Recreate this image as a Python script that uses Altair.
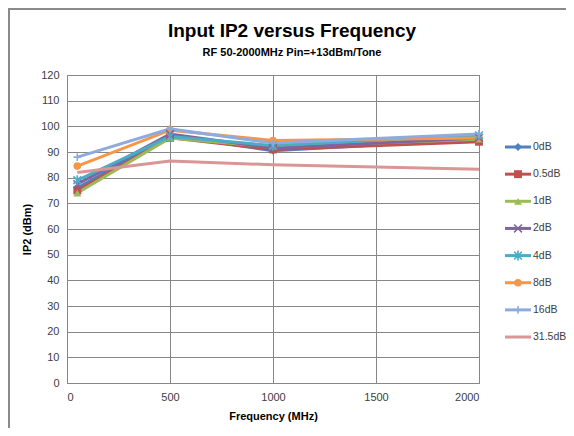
import altair as alt
import pandas as pd

series_names = ["0dB", "0.5dB", "1dB", "2dB", "4dB", "8dB", "16dB", "31.5dB"]
freq_mhz = [50, 500, 1000, 2000]
ip2_0dB = [76.0, 96.5, 90.5, 95.0]
ip2_0p5dB = [75.0, 95.5, 91.0, 94.0]
ip2_1dB = [74.0, 95.5, 92.0, 95.0]
ip2_2dB = [77.5, 97.0, 91.5, 95.5]
ip2_4dB = [79.0, 96.0, 92.5, 96.5]
ip2_8dB = [84.5, 98.5, 94.5, 95.5]
ip2_16dB = [88.0, 99.0, 93.5, 97.0]
ip2_31p5dB = [82.0, 86.5, 85.0, 83.3]
all_values = [ip2_0dB, ip2_0p5dB, ip2_1dB, ip2_2dB, ip2_4dB, ip2_8dB, ip2_16dB, ip2_31p5dB]

x_ticks = [0, 500, 1000, 1500, 2000]
y_ticks = list(range(0, 121, 10))

series_colors = ["#4F81BD", "#C0504D", "#9BBB59", "#8064A2", "#4BACC6", "#F79646", "#8FAADC", "#D99694"]
X_PATH = "M-1,-1L1,1M-1,1L1,-1"
AST_PATH = "M-1,-1L1,1M-1,1L1,-1M0,-1.3L0,1.3"
PLUS_PATH = "M-1,0L1,0M0,-1L0,1"
marker_shapes = ["diamond", "square", "triangle-up", X_PATH, AST_PATH, "circle", PLUS_PATH, "circle"]
marker_sizes = [64, 56, 64, 36, 49, 80, 81, 0]
filled_series = ["0dB", "0.5dB", "1dB", "8dB"]
stroked_series = ["2dB", "4dB", "16dB"]

FONT = "Liberation Sans"
GRID = "#878787"

rows = []
for name, vals in zip(series_names, all_values):
    for f, v in zip(freq_mhz, vals):
        rows.append({"series": name, "freq": f, "ip2": v})
df = pd.DataFrame(rows)
leg_df = pd.DataFrame({"series": series_names, "idx": list(range(len(series_names)))})

color = alt.Color("series:N", scale=alt.Scale(domain=series_names, range=series_colors), legend=None)
shape = alt.Shape("series:N", scale=alt.Scale(domain=series_names, range=marker_shapes), legend=None)
size = alt.Size("series:N", scale=alt.Scale(domain=series_names, range=marker_sizes), legend=None)

x = alt.X("freq:Q", scale=alt.Scale(domain=[0, 2000], nice=False),
          axis=alt.Axis(values=x_ticks, format="d", title="Frequency (MHz)", labelPadding=8, titlePadding=8))
y = alt.Y("ip2:Q", scale=alt.Scale(domain=[0, 120], nice=False),
          axis=alt.Axis(values=y_ticks, title="IP2 (dBm)", labelPadding=8, titlePadding=8))

base = alt.Chart(df)
lines = base.mark_line(strokeWidth=3).encode(x=x, y=y, color=color)
pts_filled = base.transform_filter(
    alt.FieldOneOfPredicate(field="series", oneOf=filled_series)
).mark_point(filled=True, opacity=1).encode(x=x, y=y, color=color, shape=shape, size=size)
pts_stroked = base.transform_filter(
    alt.FieldOneOfPredicate(field="series", oneOf=stroked_series)
).mark_point(filled=False, opacity=1, strokeWidth=1.6).encode(x=x, y=y, color=color, shape=shape, size=size)
main = alt.layer(lines, pts_filled, pts_stroked)

ly = alt.Y("idx:Q", scale=alt.Scale(domain=[-2.653, 8.694], reverse=True, nice=False, zero=False), axis=None)
lbase = alt.Chart(leg_df)
leg_rules = lbase.mark_rule(strokeWidth=3).encode(x=alt.value(438), x2=alt.value(464), y=ly, color=color)
leg_filled = lbase.transform_filter(
    alt.FieldOneOfPredicate(field="series", oneOf=filled_series)
).mark_point(filled=True, opacity=1).encode(x=alt.value(451), y=ly, color=color, shape=shape, size=size)
leg_stroked = lbase.transform_filter(
    alt.FieldOneOfPredicate(field="series", oneOf=stroked_series)
).mark_point(filled=False, opacity=1, strokeWidth=1.6).encode(x=alt.value(451), y=ly, color=color, shape=shape, size=size)
leg_text = lbase.mark_text(align="left", baseline="middle", font=FONT, fontSize=10.5, color="#404040").encode(
    x=alt.value(466), y=ly, text="series:N")
border_v = lbase.mark_rule(color="#8a8a8a", strokeWidth=2).encode(
    x=alt.value(-58), y=alt.value(-67), y2=alt.value(360))
border_h = lbase.mark_rule(color="#8a8a8a", strokeWidth=2).encode(
    x=alt.value(-58), x2=alt.value(505), y=alt.value(-66))
legend = alt.layer(leg_rules, leg_filled, leg_stroked, leg_text, border_v, border_h)

chart = alt.layer(main, legend).resolve_scale(y="independent").properties(
    width=412, height=308,
    autosize=alt.AutoSizeParams(type="none"),
    padding={"left": 59, "top": 67, "right": 87, "bottom": 45},
    title=alt.Title("Input IP2 versus Frequency", subtitle="RF 50-2000MHz Pin=+13dBm/Tone",
                    font=FONT, fontSize=19, fontWeight="bold", color="#000000",
                    subtitleFont=FONT, subtitleFontSize=11, subtitleFontWeight="bold",
                    subtitleColor="#000000", anchor="middle", dx=19, dy=67, offset=16, subtitlePadding=6),
).configure_view(stroke=GRID, strokeWidth=1).configure_axis(
    labelFont=FONT, labelFontSize=11, labelColor="#404040",
    titleFont=FONT, titleFontSize=11, titleFontWeight="bold", titleColor="#000000",
    gridColor=GRID, gridOpacity=1, gridWidth=1, domainColor=GRID, ticks=False,
)

chart.save("out.html", embed_options={"renderer": "svg", "actions": False})
